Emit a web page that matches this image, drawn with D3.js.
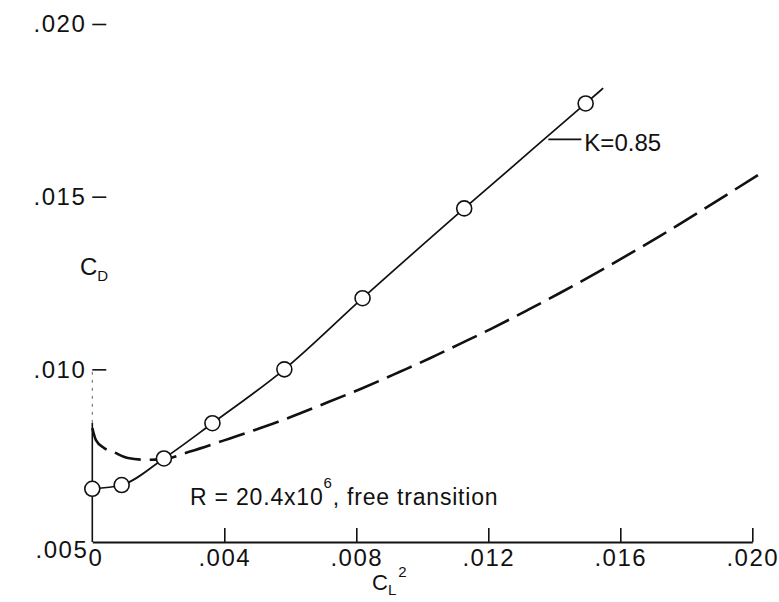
<!DOCTYPE html>
<html>
<head>
<meta charset="utf-8">
<script src="https://cdn.jsdelivr.net/npm/d3@7"></script>
<style>
  body { margin: 0; background: #fff; }
  svg { display: block; }
  text { font-family: "Liberation Sans", Arial, sans-serif; fill: #111; }
</style>
</head>
<body>
<script>
// measured points, K = 0.85 curve (circles)
var cl2 = [0, 0.00089, 0.00217, 0.00364, 0.00582, 0.00819, 0.01127, 0.01495];
var cd = [0.00654, 0.00665, 0.00742, 0.00844, 0.01000, 0.01206, 0.01466, 0.01770];
// faired line runs a little past the last point
var lineEnd = [0.01548, 0.01814];

// dashed curve (no circles)
var dashX = [0, 0.00011, 0.00036, 0.00063, 0.00108, 0.00166, 0.00217, 0.00296, 0.00417,
    0.00563, 0.00699, 0.00820, 0.00932, 0.01023, 0.01108, 0.01210, 0.01320, 0.01417,
    0.01720, 0.02029];
var dashY = [0.00830, 0.00795, 0.00772, 0.00761, 0.00743, 0.00738, 0.00740, 0.00762, 0.00800,
    0.00848, 0.00899, 0.00946, 0.00993, 0.01032, 0.01071, 0.01118, 0.01172, 0.01221,
    0.01386, 0.01570];

var xTicks = [0, 0.004, 0.008, 0.012, 0.016, 0.020];
var yTicks = [0.005, 0.010, 0.015, 0.020];

var W = 779, H = 602;

var x = d3.scaleLinear().domain([0, 0.020]).range([92.3, 752.3]);
var y = d3.scaleLinear().domain([0.005, 0.020]).range([542, 24]);

var svg = d3.select("body").append("svg")
    .attr("width", W)
    .attr("height", H);

svg.append("rect").attr("width", W).attr("height", H).attr("fill", "#fff");

var fmt = function (d) {
    return d === 0 ? "0" : d3.format(".3f")(d).replace(/^0/, "");
};

// x axis, ticks point up into the plot
var gx = svg.append("g")
    .attr("transform", "translate(0," + y(0.005) + ")")
    .call(d3.axisBottom(x).tickValues(xTicks).tickSize(-14).tickSizeOuter(0)
        .tickPadding(7).tickFormat(fmt));
gx.select(".domain").attr("stroke", "#111").attr("stroke-width", 2);
gx.selectAll(".tick line").attr("stroke", "#111").attr("stroke-width", 1.6)
    .filter(function (d) { return d === 0; }).remove();
gx.selectAll(".tick text")
    .attr("font-size", 24)
    .attr("letter-spacing", 1.5)
    .attr("fill", "#111")
    .attr("font-family", "Liberation Sans, Arial, sans-serif")
    .filter(function (d) { return d === 0; })
    .attr("dx", 3);

// y axis: only short dashes beside the labels
var gy = svg.append("g")
    .attr("transform", "translate(" + x(0) + ",0)")
    .call(d3.axisLeft(y).tickValues(yTicks).tickSize(-14).tickPadding(6).tickFormat(fmt));
gy.select(".domain").remove();
gy.selectAll(".tick line").attr("stroke", "#111").attr("stroke-width", 1.6)
    .filter(function (d) { return d === 0.005; }).remove();
gy.selectAll(".tick text")
    .attr("font-size", 24)
    .attr("letter-spacing", 1.5)
    .attr("fill", "#111")
    .attr("font-family", "Liberation Sans, Arial, sans-serif")
    .filter(function (d) { return d === 0.005; })
    .attr("dy", "0.65em")
    .attr("x", -4);

// vertical axis line, faint near the top
svg.append("line")
    .attr("x1", x(0)).attr("x2", x(0))
    .attr("y1", y(0.005)).attr("y2", y(0.00845))
    .attr("stroke", "#111").attr("stroke-width", 1.6);
svg.append("line")
    .attr("x1", x(0)).attr("x2", x(0))
    .attr("y1", y(0.00845)).attr("y2", y(0.010))
    .attr("stroke", "#666").attr("stroke-width", 1)
    .attr("stroke-dasharray", "3,5");

// dashed curve
var dashData = dashX.map(function (d, i) { return [d, dashY[i]]; });
svg.append("path")
    .datum(dashData)
    .attr("fill", "none")
    .attr("stroke", "#111")
    .attr("stroke-width", 2.6)
    .attr("stroke-dasharray", "27,9")
    .attr("d", d3.line()
        .x(function (d) { return x(d[0]); })
        .y(function (d) { return y(d[1]); })
        .curve(d3.curveMonotoneX));

// solid faired line through the points
var pts = cl2.map(function (d, i) { return [d, cd[i]]; });
svg.append("path")
    .datum(pts.concat([lineEnd]))
    .attr("fill", "none")
    .attr("stroke", "#111")
    .attr("stroke-width", 1.7)
    .attr("d", d3.line()
        .x(function (d) { return x(d[0]); })
        .y(function (d) { return y(d[1]); })
        .curve(d3.curveMonotoneX));

svg.selectAll("circle.pt")
    .data(pts)
    .enter().append("circle")
    .attr("class", "pt")
    .attr("cx", function (d) { return x(d[0]); })
    .attr("cy", function (d) { return y(d[1]); })
    .attr("r", 7.5)
    .attr("fill", "#fff")
    .attr("stroke", "#111")
    .attr("stroke-width", 1.6);

// K label with leader
var kAt = [0.01382, 0.01666];
svg.append("line")
    .attr("x1", x(kAt[0])).attr("x2", x(kAt[0]) + 33)
    .attr("y1", y(kAt[1])).attr("y2", y(kAt[1]))
    .attr("stroke", "#111").attr("stroke-width", 1.6);
svg.append("text")
    .attr("x", x(kAt[0]) + 36)
    .attr("y", y(kAt[1]) + 12)
    .attr("font-size", 24)
    .text("K=0.85");

// condition note
var note = svg.append("text")
    .attr("x", 190)
    .attr("y", 505)
    .attr("font-size", 23)
    .attr("letter-spacing", 0.8);
note.append("tspan").text("R = 20.4x10");
note.append("tspan").attr("font-size", 15).attr("dy", -17).text("6");
note.append("tspan").attr("dy", 17).text(", free transition");

// axis titles
var cdLab = svg.append("text").attr("x", 80).attr("y", 275).attr("font-size", 24);
cdLab.append("tspan").text("C");
cdLab.append("tspan").attr("font-size", 15).attr("dy", 6).text("D");

var clLab = svg.append("text").attr("x", 372).attr("y", 590).attr("font-size", 22);
clLab.append("tspan").text("C");
clLab.append("tspan").attr("font-size", 15).attr("dy", 5).text("L");
clLab.append("tspan").attr("font-size", 15).attr("dy", -18).attr("dx", 2).text("2");
</script>
</body>
</html>
